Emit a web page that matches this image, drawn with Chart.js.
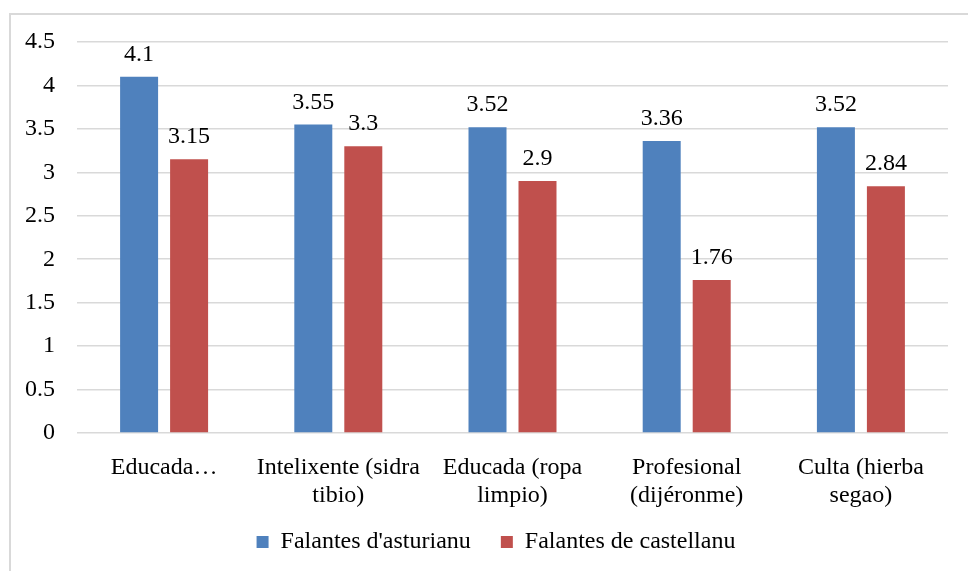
<!DOCTYPE html>
<html>
<head>
<meta charset="utf-8">
<script src="https://cdn.jsdelivr.net/npm/chart.js@4/dist/chart.umd.min.js"></script>
<style>
  html, body { margin: 0; padding: 0; background: #fff; overflow: hidden; }
  #wrap { position: relative; width: 968px; height: 571px; }
  #frame { position: absolute; left: 9px; top: 13px; width: 1000px; height: 600px;
           border: 2px solid #d9d9d9; box-sizing: border-box; pointer-events: none; }
  canvas { position: absolute; left: 0; top: 0; }
</style>
</head>
<body>
<div id="wrap">
  <div id="frame"></div>
  <canvas id="chart" width="968" height="571"></canvas>
</div>
<script>
// Category labels (multi-line where the label wraps)
const categories = [
  ["Educada\u2026"],
  ["Intelixente (sidra", "tibio)"],
  ["Educada (ropa", "limpio)"],
  ["Profesional", "(dij\u00e9ronme)"],
  ["Culta (hierba", "segao)"]
];
const seriesNames = ["Falantes d'asturianu", "Falantes de castellanu"];
const asturianu = [4.1, 3.55, 3.52, 3.36, 3.52];
const castellanu = [3.15, 3.3, 2.9, 1.76, 2.84];
const seriesColors = ["#4f81bd", "#c0504d"];
const yTickLabels = ["0", "0.5", "1", "1.5", "2", "2.5", "3", "3.5", "4", "4.5"];

const FONT = "'Liberation Serif', 'Times New Roman', serif";

// Writes each bar's value just above it
const valueLabels = {
  id: 'valueLabels',
  afterDatasetsDraw(chart) {
    const ctx = chart.ctx;
    ctx.save();
    ctx.font = "24px " + FONT;
    ctx.fillStyle = "#000";
    ctx.textAlign = "center";
    ctx.textBaseline = "alphabetic";
    chart.data.datasets.forEach((ds, i) => {
      const meta = chart.getDatasetMeta(i);
      meta.data.forEach((bar, j) => {
        ctx.fillText(String(ds.data[j]), bar.x, bar.y - 16);
      });
    });
    ctx.restore();
  }
};

// Nudges the legend row a little higher and centres it under the frame;
// also lets the two-line category labels run past the axis box
const layoutTweaks = {
  id: 'layoutTweaks',
  afterLayout(chart) {
    const lg = chart.legend;
    if (lg) {
      lg.top -= 7; lg.bottom -= 7;
      lg.left += 22; lg.right += 22;
    }
    const x = chart.scales.x;
    if (x) x.bottom += 14;
  }
};

new Chart(document.getElementById('chart'), {
  type: 'bar',
  data: {
    labels: categories,
    datasets: [
      { label: seriesNames[0], data: asturianu, backgroundColor: seriesColors[0] },
      { label: seriesNames[1], data: castellanu, backgroundColor: seriesColors[1] }
    ]
  },
  options: {
    responsive: false,
    animation: false,
    devicePixelRatio: 1,
    layout: { padding: { left: 0, right: 20, top: 42, bottom: 0 } },
    datasets: {
      bar: { categoryPercentage: 0.574, barPercentage: 0.76 }
    },
    plugins: {
      tooltip: { enabled: false },
      legend: {
        position: 'bottom',
        labels: {
          font: { family: FONT, size: 24 },
          color: "#000",
          boxWidth: 12,
          boxHeight: 12,
          padding: 30
        }
      }
    },
    scales: {
      x: {
        grid: { display: false },
        border: { display: false },
        ticks: {
          font: { family: FONT, size: 24, lineHeight: 1.17 },
          color: "#000",
          padding: 13,
          maxRotation: 0,
          autoSkip: false
        },
        afterFit(scale) { scale.height = 74; }
      },
      y: {
        min: 0,
        max: 4.5,
        grid: { color: "#d9d9d9", lineWidth: 1.5, drawTicks: false },
        border: { display: false },
        ticks: {
          stepSize: 0.5,
          font: { family: FONT, size: 24 },
          color: "#000",
          padding: 22,
          callback: (value, index) => yTickLabels[index]
        },
        afterFit(scale) { scale.width = 77; }
      }
    }
  },
  plugins: [valueLabels, layoutTweaks]
});
</script>
</body>
</html>
